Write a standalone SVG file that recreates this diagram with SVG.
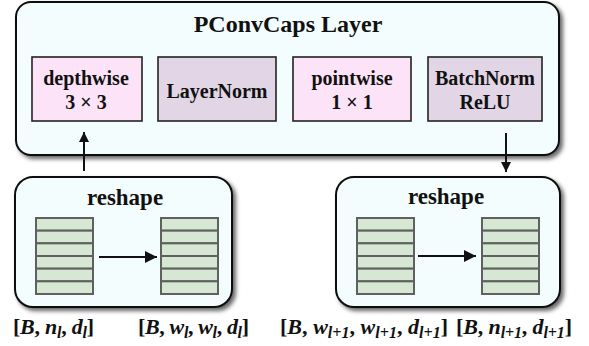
<svg xmlns="http://www.w3.org/2000/svg" width="589" height="346" viewBox="0 0 589 346">
  <style>
    .panel { fill: #f3fdfe; stroke: #111; stroke-width: 2; }
    .op { stroke: #222; stroke-width: 1.6; }
    .pink { fill: #fde3f7; }
    .lav { fill: #e2d6e6; }
    .cell { fill: #d6e8d3; stroke: #606060; stroke-width: 2; }
    .t { font-family: "Liberation Serif", "Times New Roman", serif; font-weight: bold; fill: #111; text-anchor: middle; }
    .title { font-size: 24px; }
    .sect { font-size: 23px; }
    .lbl { font-size: 20px; }
    .math { font-family: "Liberation Serif", "Times New Roman", serif; font-weight: bold; font-size: 22px; fill: #111; }
    .m { font-style: italic; }
    .sub { font-size: 16px; font-style: italic; }
    .wire { stroke: #111; stroke-width: 2; fill: none; }
  </style>
  <defs>
    <filter id="shadow" x="-10%" y="-10%" width="125%" height="130%">
      <feDropShadow dx="3" dy="3" stdDeviation="2.2" flood-color="#000" flood-opacity="0.6"/>
    </filter>
    <marker id="arrow" viewBox="0 0 10 10" refX="10" refY="5" markerWidth="12" markerHeight="10" markerUnits="userSpaceOnUse" orient="auto">
      <path d="M0,0 L10,5 L0,10 z" fill="#111"/>
    </marker>
    <marker id="arrowL" viewBox="0 0 10 10" refX="10" refY="5" markerWidth="14" markerHeight="12" orient="auto" markerUnits="userSpaceOnUse">
      <path d="M0,0 L10,5 L0,10 z" fill="#111"/>
    </marker>
    <!-- six-row tensor stack -->
    <g id="stack">
      <rect class="cell" x="0" y="0" width="57" height="12.67"/>
      <rect class="cell" x="0" y="12.67" width="57" height="12.67"/>
      <rect class="cell" x="0" y="25.33" width="57" height="12.67"/>
      <rect class="cell" x="0" y="38" width="57" height="12.67"/>
      <rect class="cell" x="0" y="50.67" width="57" height="12.67"/>
      <rect class="cell" x="0" y="63.33" width="57" height="12.67"/>
    </g>
  </defs>

  <g id="pconvcaps">
    <rect class="panel" x="16" y="2" width="543" height="153" rx="15" filter="url(#shadow)"/>
    <text class="t title" x="288" y="32">PConvCaps Layer</text>
  </g>

  <g id="depthwise">
    <rect class="op pink" x="32" y="57" width="110" height="64"/>
    <text class="t lbl" x="86" y="85">depthwise</text>
    <text class="t lbl" x="86" y="109">3 × 3</text>
  </g>

  <g id="layernorm">
    <rect class="op lav" x="158" y="57" width="118" height="64"/>
    <text class="t lbl" x="217" y="98">LayerNorm</text>
  </g>

  <g id="pointwise">
    <rect class="op pink" x="293" y="57" width="118" height="64"/>
    <text class="t lbl" x="352" y="85">pointwise</text>
    <text class="t lbl" x="352" y="109">1 × 1</text>
  </g>

  <g id="batchnorm">
    <rect class="op lav" x="428" y="57" width="114" height="64"/>
    <text class="t lbl" x="485" y="85">BatchNorm</text>
    <text class="t lbl" x="485" y="109">ReLU</text>
  </g>

  <g id="reshape-in">
    <rect class="panel" x="15" y="177" width="217" height="130" rx="18" filter="url(#shadow)"/>
    <text class="t sect" x="125" y="205">reshape</text>
    <use href="#stack" x="36" y="218"/>
    <use href="#stack" x="161" y="218"/>
  </g>

  <g id="reshape-out">
    <rect class="panel" x="336" y="177" width="224" height="130" rx="18" filter="url(#shadow)"/>
    <text class="t sect" x="446" y="204">reshape</text>
    <use href="#stack" x="357" y="218"/>
    <use href="#stack" x="482" y="218"/>
  </g>

  <g id="connectors">
    <line class="wire" x1="84" y1="171" x2="84" y2="132" marker-end="url(#arrow)"/>
    <line class="wire" x1="506" y1="133" x2="506" y2="172" marker-end="url(#arrow)"/>
    <line class="wire" x1="99" y1="257" x2="157" y2="257" marker-end="url(#arrowL)"/>
    <line class="wire" x1="418" y1="256" x2="476" y2="256" marker-end="url(#arrowL)"/>
  </g>

  <g id="shapes">
    <text class="math" x="13" y="334" textLength="81" lengthAdjust="spacing">[<tspan class="m">B</tspan>, <tspan class="m">n</tspan><tspan class="sub" dy="4">l</tspan><tspan dy="-4">, </tspan><tspan class="m">d</tspan><tspan class="sub" dy="4">l</tspan><tspan dy="-4">]</tspan></text>
    <text class="math" x="138" y="334" textLength="111" lengthAdjust="spacing">[<tspan class="m">B</tspan>, <tspan class="m">w</tspan><tspan class="sub" dy="4">l</tspan><tspan dy="-4">, </tspan><tspan class="m">w</tspan><tspan class="sub" dy="4">l</tspan><tspan dy="-4">, </tspan><tspan class="m">d</tspan><tspan class="sub" dy="4">l</tspan><tspan dy="-4">]</tspan></text>
    <text class="math" x="280" y="334" textLength="168" lengthAdjust="spacing">[<tspan class="m">B</tspan>, <tspan class="m">w</tspan><tspan class="sub" dy="4">l+1</tspan><tspan dy="-4">, </tspan><tspan class="m">w</tspan><tspan class="sub" dy="4">l+1</tspan><tspan dy="-4">, </tspan><tspan class="m">d</tspan><tspan class="sub" dy="4">l+1</tspan><tspan dy="-4">]</tspan></text>
    <text class="math" x="456" y="334" textLength="116" lengthAdjust="spacing">[<tspan class="m">B</tspan>, <tspan class="m">n</tspan><tspan class="sub" dy="4">l+1</tspan><tspan dy="-4">, </tspan><tspan class="m">d</tspan><tspan class="sub" dy="4">l+1</tspan><tspan dy="-4">]</tspan></text>
  </g>
</svg>
